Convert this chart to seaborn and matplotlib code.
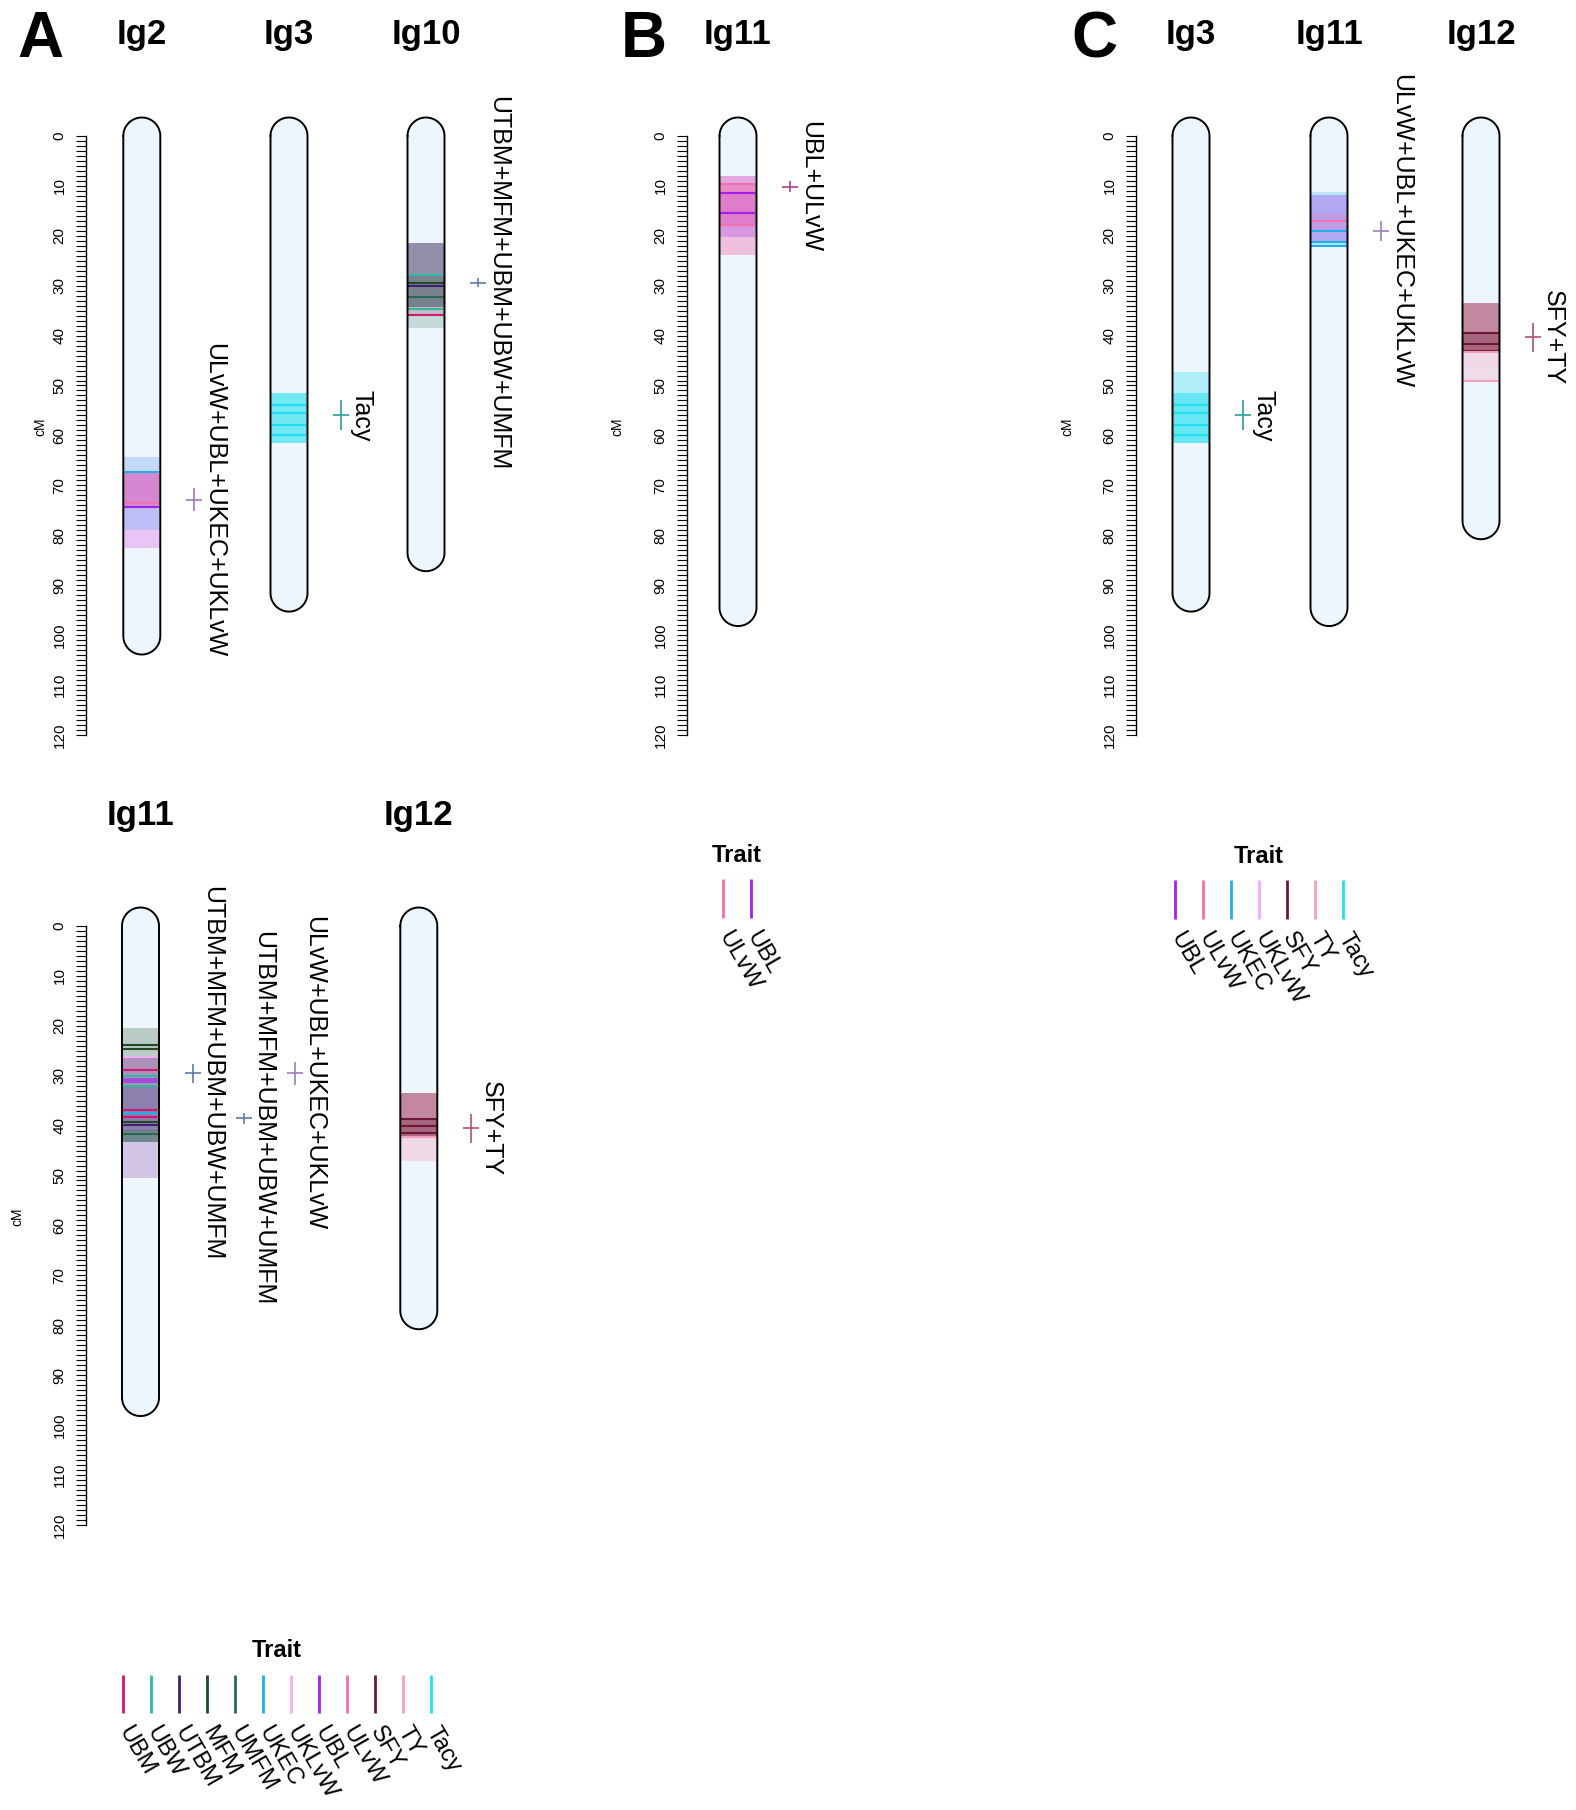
import numpy as np
import matplotlib
matplotlib.use("Agg")
import matplotlib.pyplot as plt
from matplotlib.ticker import MultipleLocator
import seaborn as sns

sns.set_theme(style="white")
plt.rcParams["font.family"] = ["Liberation Sans", "DejaVu Sans"]
plt.rcParams["text.color"] = "black"
plt.rcParams["ytick.color"] = "black"
plt.rcParams["ytick.labelcolor"] = "black"

# trait colours
trait_colors = {
    "UBM": "#d01870", "UBW": "#30b8a0", "UTBM": "#402070", "MFM": "#1f4a22",
    "UMFM": "#2a6a50", "UKEC": "#20b0e8", "UKLvW": "#f0b0f0", "UBL": "#a020f0",
    "ULvW": "#f070b0", "SFY": "#6e1838", "TY": "#f4a0bc", "Tacy": "#20e0f0",
}
cross_colors = {
    "ULvW+UBL+UKEC+UKLvW": "#a07ab8", "Tacy": "#2a9d9d",
    "UTBM+MFM+UBM+UBW+UMFM": "#5b7aa8", "UBL+ULvW": "#b0408a", "SFY+TY": "#b05070",
}

# chromosome lengths (cM)
chrom_len = {"Ig2": 100.2, "Ig3": 91.6, "Ig10": 83.5, "Ig11": 94.5, "Ig12": 77.1}

# QTL intervals: (trait, start cM, end cM, opacity)
bands_A_Ig2 = [("UKEC", 64.3, 79.0, .18), ("UBL", 64.3, 79.0, .08), ("ULvW", 67.6, 74.5, .6),
               ("UBL", 67.6, 82.6, .14), ("UKLvW", 79.0, 82.6, .45)]
bands_A_Ig3 = [("Tacy", 51.5, 61.5, .6)]
bands_A_Ig10 = [("UTBM", 21.5, 34.2, .42), ("MFM", 21.5, 34.2, .15), ("MFM", 27.9, 34.2, .2),
                ("UBM", 34.2, 35.8, .15), ("UMFM", 34.2, 38.5, .2)]
bands_A_Ig11 = [("MFM", 20.5, 26.2, .25), ("UTBM", 26.2, 43.2, .4), ("UBM", 26.2, 32.2, .1),
                ("UTBM", 32.2, 41.0, .25), ("UBL", 30.5, 31.5, .6), ("UMFM", 40.9, 43.2, .45),
                ("UTBM", 43.2, 50.6, .2), ("UKLvW", 43.2, 50.6, .2)]
bands_A_Ig12 = [("SFY", 33.4, 42.2, .55), ("TY", 33.4, 47.0, .35), ("SFY", 38.7, 42.2, .3)]
bands_B_Ig11 = [("ULvW", 8.0, 23.8, .4), ("UBL", 8.0, 20.2, .15), ("ULvW", 9.6, 17.8, .5),
                ("UBL", 11.5, 20.2, .12)]
bands_C_Ig3 = [("Tacy", 47.2, 61.5, .3), ("Tacy", 51.5, 61.5, .5)]
bands_C_Ig11 = [("UKEC", 11.2, 22.3, .25), ("UBL", 11.8, 21.2, .3), ("ULvW", 15.4, 19.0, .2)]
bands_C_Ig12 = [("SFY", 33.5, 43.2, .55), ("TY", 33.5, 46.6, .35), ("SFY", 39.5, 43.2, .3),
                ("TY", 46.6, 49.1, .3)]

# QTL peak lines: (trait, cM)
lines_A_Ig2 = [("UKEC", 67.3), ("ULvW", 73.5), ("UBL", 74.4)]
lines_A_Ig3 = [("Tacy", 54.0), ("Tacy", 55.5), ("Tacy", 58.0), ("Tacy", 60.0)]
lines_A_Ig10 = [("UBW", 27.9), ("MFM", 29.4), ("UTBM", 30.0), ("UMFM", 32.3), ("UBW", 34.7),
                ("UBM", 35.8)]
lines_A_Ig11 = [("MFM", 23.8), ("MFM", 24.7), ("UKLvW", 26.2), ("UBM", 28.9), ("UBW", 30.1),
                ("UBW", 32.1), ("UBM", 36.9), ("UKEC", 37.5), ("UBM", 38.2), ("MFM", 39.2),
                ("UTBM", 39.9), ("UMFM", 41.7)]
lines_A_Ig12 = [("SFY", 38.7), ("SFY", 40.1), ("SFY", 41.5), ("TY", 42.2)]
lines_B_Ig11 = [("ULvW", 9.6), ("UBL", 11.5), ("UBL", 15.4), ("ULvW", 17.8)]
lines_C_Ig3 = [("Tacy", 54.0), ("Tacy", 55.5), ("Tacy", 58.0), ("Tacy", 60.0)]
lines_C_Ig11 = [("ULvW", 17.0), ("UKEC", 19.0), ("UKEC", 21.2), ("UKEC", 22.0)]
lines_C_Ig12 = [("SFY", 39.5), ("SFY", 41.7), ("SFY", 43.1), ("TY", 43.2), ("TY", 49.1)]

# QTL labels: (label, peak cM, low cM, high cM)
qtl_A_Ig2 = [("ULvW+UBL+UKEC+UKLvW", 72.9, 70.6, 75.2)]
qtl_A_Ig3 = [("Tacy", 56.0, 53.0, 59.0)]
qtl_A_Ig10 = [("UTBM+MFM+UBM+UBW+UMFM", 29.4, 28.5, 30.3)]
qtl_A_Ig11 = [("UTBM+MFM+UBM+UBW+UMFM", 29.5, 27.7, 31.4),
              ("UTBM+MFM+UBM+UBW+UMFM", 38.5, 37.4, 39.6),
              ("ULvW+UBL+UKEC+UKLvW", 29.5, 27.2, 31.8)]
qtl_A_Ig12 = [("SFY+TY", 40.5, 37.6, 43.4)]
qtl_B_Ig11 = [("UBL+ULvW", 10.2, 9.0, 11.3)]
qtl_C_Ig3 = [("Tacy", 56.0, 53.0, 59.0)]
qtl_C_Ig11 = [("ULvW+UBL+UKEC+UKLvW", 19.0, 17.0, 21.0)]
qtl_C_Ig12 = [("SFY+TY", 40.3, 37.4, 43.2)]

legend_A = ["UBM", "UBW", "UTBM", "MFM", "UMFM", "UKEC", "UKLvW", "UBL", "ULvW", "SFY", "TY", "Tacy"]
legend_B = ["ULvW", "UBL"]
legend_C = ["UBL", "ULvW", "UKEC", "UKLvW", "SFY", "TY", "Tacy"]

# ---- layout (pixels) ----
FW, FH = 1576, 1810
PX = 4.99          # pixels per cM
HW = 18.5          # chromosome half width (px)
BG = "#eef6fd"

panels = [
    dict(spine=86, y0=136, cm_x=40, title_y=44, chroms=[
        ("Ig2", 141.8, bands_A_Ig2, lines_A_Ig2, qtl_A_Ig2),
        ("Ig3", 289, bands_A_Ig3, lines_A_Ig3, qtl_A_Ig3),
        ("Ig10", 426, bands_A_Ig10, lines_A_Ig10, qtl_A_Ig10)]),
    dict(spine=86, y0=926, cm_x=17, title_y=825, chroms=[
        ("Ig11", 140.5, bands_A_Ig11, lines_A_Ig11, qtl_A_Ig11),
        ("Ig12", 418.8, bands_A_Ig12, lines_A_Ig12, qtl_A_Ig12)]),
    dict(spine=687, y0=136, cm_x=617, title_y=44, chroms=[
        ("Ig11", 738, bands_B_Ig11, lines_B_Ig11, qtl_B_Ig11)]),
    dict(spine=1136, y0=136, cm_x=1067, title_y=44, chroms=[
        ("Ig3", 1191, bands_C_Ig3, lines_C_Ig3, qtl_C_Ig3),
        ("Ig11", 1329, bands_C_Ig11, lines_C_Ig11, qtl_C_Ig11),
        ("Ig12", 1481, bands_C_Ig12, lines_C_Ig12, qtl_C_Ig12)]),
]

fig = plt.figure(figsize=(FW / 100, FH / 100), dpi=100)

for p in panels:
    sx, y0 = p["spine"], p["y0"]
    w = FW - sx
    ax = fig.add_axes([sx / FW, 1 - (y0 + 120 * PX) / FH, w / FW, 120 * PX / FH])
    ax.set_xlim(sx, FW)
    ax.set_ylim(120, 0)
    ax.patch.set_alpha(0)
    for s in ["top", "right", "bottom"]:
        ax.spines[s].set_visible(False)
    ax.spines["left"].set_linewidth(1.0)
    ax.spines["left"].set_color("black")
    ax.set_xticks([])
    ax.set_yticks(range(0, 121, 10))
    ax.yaxis.set_minor_locator(MultipleLocator(1))
    ax.tick_params(axis="y", which="both", direction="out", length=7, width=0.8,
                   color="black", left=True)
    ax.tick_params(axis="y", which="major", labelsize=11, pad=7, labelrotation=90)
    for t in ax.get_yticklabels():
        t.set_va("center")
    to_cm = lambda pix: (pix - y0) / PX
    ax.text(p["cm_x"], 58.3, "cM", rotation=90, fontsize=10, ha="center", va="center",
            clip_on=False)

    r = HW / PX
    for name, cx, bands, lines, qtls in p["chroms"]:
        L = chrom_len[name]
        th = np.linspace(np.pi, 0, 60)
        th2 = np.linspace(0, -np.pi, 60)
        xs = np.concatenate([cx + HW * np.cos(th), cx + HW * np.cos(th2)])
        ys = np.concatenate([-r * np.sin(th), L - r * np.sin(th2)])
        ax.fill(xs, ys, color=BG, lw=0, zorder=1, clip_on=False)
        for trait, s, e, a in bands:
            ax.fill_betweenx([s, e], cx - HW, cx + HW, color=trait_colors[trait], alpha=a,
                             lw=0, zorder=2, clip_on=False)
        for trait, pos in lines:
            ax.hlines(pos, cx - HW, cx + HW, color=trait_colors[trait], lw=1.5, zorder=3,
                      clip_on=False)
        ax.plot(np.append(xs, xs[0]), np.append(ys, ys[0]), color="black", lw=1.4,
                zorder=4, clip_on=False, solid_joinstyle="round")
        ax.text(cx, to_cm(p["title_y"]), name, fontsize=25, fontweight="bold",
                ha="center", va="baseline", clip_on=False)
        for k, (label, peak, lo, hi) in enumerate(qtls):
            qx = cx + 52 + 51 * k
            col = cross_colors[label]
            ax.vlines(qx, lo, hi, color=col, lw=1.2, clip_on=False)
            ax.hlines(peak, qx - 8, qx + 8, color=col, lw=1.2, clip_on=False)
            ax.text(qx + 20, peak, label, rotation=-90, fontsize=18, ha="center",
                    va="center", clip_on=False)

# overlay for panel letters and legends
ov = fig.add_axes([0, 0, 1, 1])
ov.set_xlim(0, FW)
ov.set_ylim(FH, 0)
ov.axis("off")
ov.patch.set_alpha(0)
for letter, lx in [("A", 40), ("B", 644), ("C", 1094)]:
    ov.text(lx, 40, letter, fontsize=46, fontweight="bold", ha="center", va="center")

legends = [(legend_A, 123.3, 1675, 1713, 1650),
           (legend_B, 723, 879, 918, 855),
           (legend_C, 1175, 880, 919, 856)]
for traits, x0, ytop, ybot, ty in legends:
    xs = [x0 + 27.95 * i for i in range(len(traits))]
    for x, t in zip(xs, traits):
        ov.vlines(x, ytop, ybot, color=trait_colors[t], lw=2)
        ov.text(x, ybot + 15, t, rotation=-60, rotation_mode="anchor", ha="left",
                va="center", fontsize=17)
    ov.text((xs[0] + xs[-1]) / 2, ty, "Trait", fontsize=17, fontweight="bold",
            ha="center", va="center")

fig.savefig("out.png", dpi=100)
